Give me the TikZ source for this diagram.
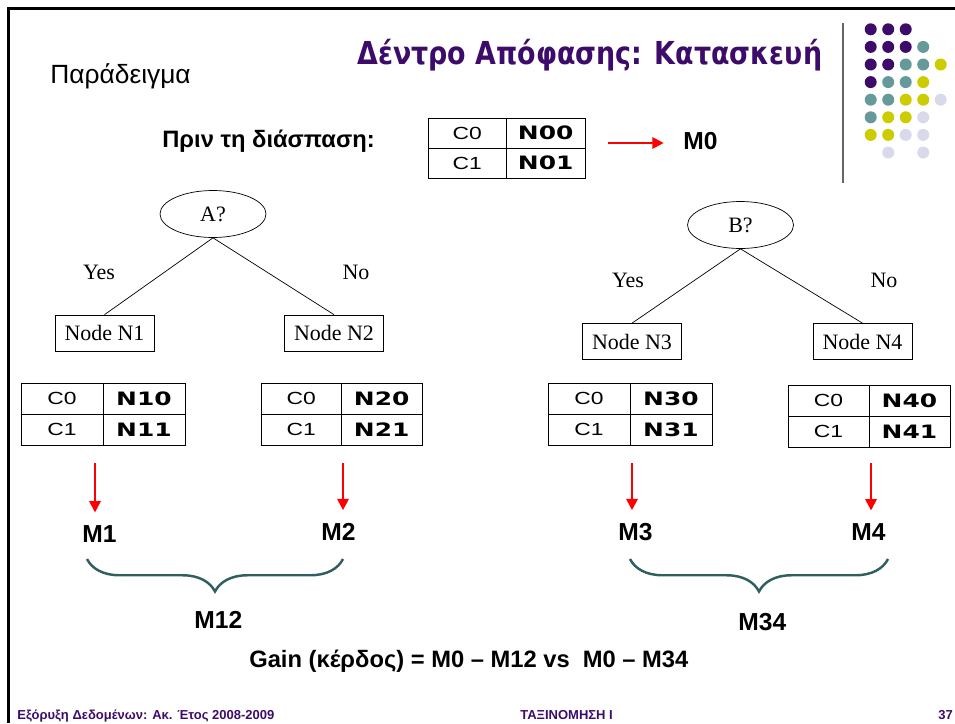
\documentclass[tikz,border=0pt]{standalone}
\usepackage{fontspec}
\setmainfont{Liberation Sans}
\newfontfamily\serifgr{Liberation Serif}
\newfontfamily\titlefont[FakeStretch=0.85]{DejaVu Sans}
\newfontfamily\tabfont[FakeStretch=1.3]{Liberation Sans}
\newfontfamily\tabbold[FakeStretch=1.35]{DejaVu Sans}
\usetikzlibrary{positioning,shapes.geometric,arrows.meta,decorations.pathreplacing}

\definecolor{dkpurple}{HTML}{3D0C6B}
\definecolor{dotteal}{HTML}{669999}
\definecolor{dotyellow}{HTML}{CCCC00}
\definecolor{dotlav}{HTML}{D9D9EC}
\definecolor{bracegreen}{HTML}{2F5F5F}

% 2x2 count table: [cell options] name, x, y, upper count, lower count
\newcommand\cmtable[6][]{%
  \node[cell, #1, anchor=north west] (#2a) at (#3,#4) {C0};
  \node[cell, ncell, #1, right=0pt of #2a] (#2b) {#5};
  \node[cell, #1, below=0pt of #2a] (#2c) {C1};
  \node[cell, ncell, #1, right=0pt of #2c] (#2d) {#6};
}

\begin{document}
\begin{tikzpicture}[x=0.02cm, y=-0.02cm,
    cell/.style={draw, minimum width=1.64cm, minimum height=0.62cm, inner sep=0pt, outer sep=0pt,
      font=\tabfont\fontsize{10}{11}\selectfont},
    ncell/.style={font=\tabbold\bfseries\fontsize{10.5}{11}\selectfont},
    test/.style={draw, ellipse, minimum width=2.12cm, minimum height=0.94cm, inner sep=0pt,
      font=\serifgr\fontsize{12.5}{14}\selectfont},
    leaf/.style={draw, minimum width=1.98cm, minimum height=0.72cm, inner sep=0pt,
      font=\serifgr\fontsize{12.5}{14}\selectfont},
    branch/.style={font=\serifgr\fontsize{12.5}{14}\selectfont},
    mval/.style={anchor=base west, inner sep=0pt, font=\bfseries\fontsize{14}{16}\selectfont},
    redarr/.style={red, line width=1.2pt, shorten >=7pt, -{Triangle[length=6.5pt, width=6.5pt]}},
    curly/.style={bracegreen, line width=1.4pt, decorate,
      decoration={brace, mirror, amplitude=18.5pt, aspect=0.5}},
    foot/.style={anchor=base west, inner sep=0pt, text=dkpurple, font=\bfseries\fontsize{7.4}{9}\selectfont},
  ]
  \useasboundingbox (0,0) rectangle (955,723);
  \draw[line width=1.5pt] (8.7,723) -- (8.7,8.7) -- (955,8.7);

  % header
  \node[anchor=base west, inner sep=0pt, text=dkpurple, font=\titlefont\bfseries\fontsize{18}{21}\selectfont]
    (title) at (357,65) {Δέντρο Απόφασης: Κατασκευή};
  \node[anchor=base west, inner sep=0pt, font=\fontsize{15}{18}\selectfont] (example) at (50,84) {Παράδειγμα};
  \draw[gray!80!black, line width=0.6pt] (843,23) -- (843,183);
  \foreach \c/\r/\col in {1/1/dkpurple,2/1/dkpurple,3/1/dkpurple,
      1/2/dkpurple,2/2/dkpurple,3/2/dkpurple,4/2/dotteal,
      1/3/dkpurple,2/3/dkpurple,3/3/dotteal,4/3/dotteal,5/3/dotyellow,
      1/4/dkpurple,2/4/dotteal,3/4/dotteal,4/4/dotyellow,
      1/5/dotteal,2/5/dotteal,3/5/dotyellow,4/5/dotyellow,5/5/dotlav,
      1/6/dotteal,2/6/dotyellow,3/6/dotyellow,4/6/dotlav,
      1/7/dotyellow,2/7/dotyellow,3/7/dotlav,4/7/dotlav,
      2/8/dotlav,4/8/dotlav}
    \fill[\col] ({853.2+17.5*\c},{11.7+17.6*\r}) circle (0.12cm);

  % before the split
  \node[anchor=base west, inner sep=0pt, font=\bfseries\fontsize{13.5}{16}\selectfont] (before) at (162,147) {Πριν τη διάσπαση:};
  \cmtable[minimum width=1.57cm, minimum height=0.6cm]{t0}{428}{118}{N00}{N01}
  \node[mval] (m0) at (683,149) {M0};
  \coordinate (a0) at (608,143);
  \draw[redarr, shorten >=11pt] (a0) -- (a0 -| m0.west);

  % split on A
  \node[test] (A) at (213,214) {A?};
  \node[leaf] (n1) at (104.5,333) {Node N1};
  \node[leaf] (n2) at (334,333) {Node N2};
  \draw (A.south) -- (n1.north);
  \draw (A.south) -- (n2.north);
  \node[branch] (ya) at (99,272) {Yes};
  \node[branch] (na) at (356,272) {No};
  \cmtable{t1}{21}{383}{N10}{N11}
  \cmtable[minimum width=1.61cm]{t2}{261}{383}{N20}{N21}

  % split on B
  \node[test] (B) at (740.5,225) {B?};
  \node[leaf] (n3) at (632,341.5) {Node N3};
  \node[leaf] (n4) at (862.5,341.5) {Node N4};
  \draw (B.south) -- (n3.north);
  \draw (B.south) -- (n4.north);
  \node[branch] (yb) at (628,280) {Yes};
  \node[branch] (nb) at (884,280) {No};
  \cmtable{t3}{548}{383}{N30}{N31}
  \cmtable[minimum width=1.62cm]{t4}{788}{385}{N40}{N41}

  % impurities
  \node[mval] (m1) at (82,542) {M1};
  \node[mval] (m2) at (321,540) {M2};
  \node[mval] (m3) at (618,540) {M3};
  \node[mval] (m4) at (851,540) {M4};
  \foreach \i/\x in {1/95,2/343,3/632,4/871} {
    \coordinate (a\i) at (\x,463);
    \draw[redarr] (a\i) -- (a\i |- m\i.north);
  }
  \draw[curly] (87,559) -- (343,559);
  \draw[curly] (630,559) -- (888,559);
  \node[mval] (m12) at (194,628) {M12};
  \node[mval] (m34) at (738,630) {M34};
  \node[anchor=base west, inner sep=0pt, font=\bfseries\fontsize{13.5}{16}\selectfont] (gain) at (249,667)
    {Gain (κέρδος) = M0 – M12 vs\ \ M0 – M34};

  % footer
  \node[foot] (course) at (17,719) {Εξόρυξη Δεδομένων: Ακ. Έτος 2008-2009};
  \node[foot] (chapter) at (520,719) {ΤΑΞΙΝΟΜΗΣΗ Ι};
  \node[foot] (page) at (938,719) {37};
\end{tikzpicture}
\end{document}
